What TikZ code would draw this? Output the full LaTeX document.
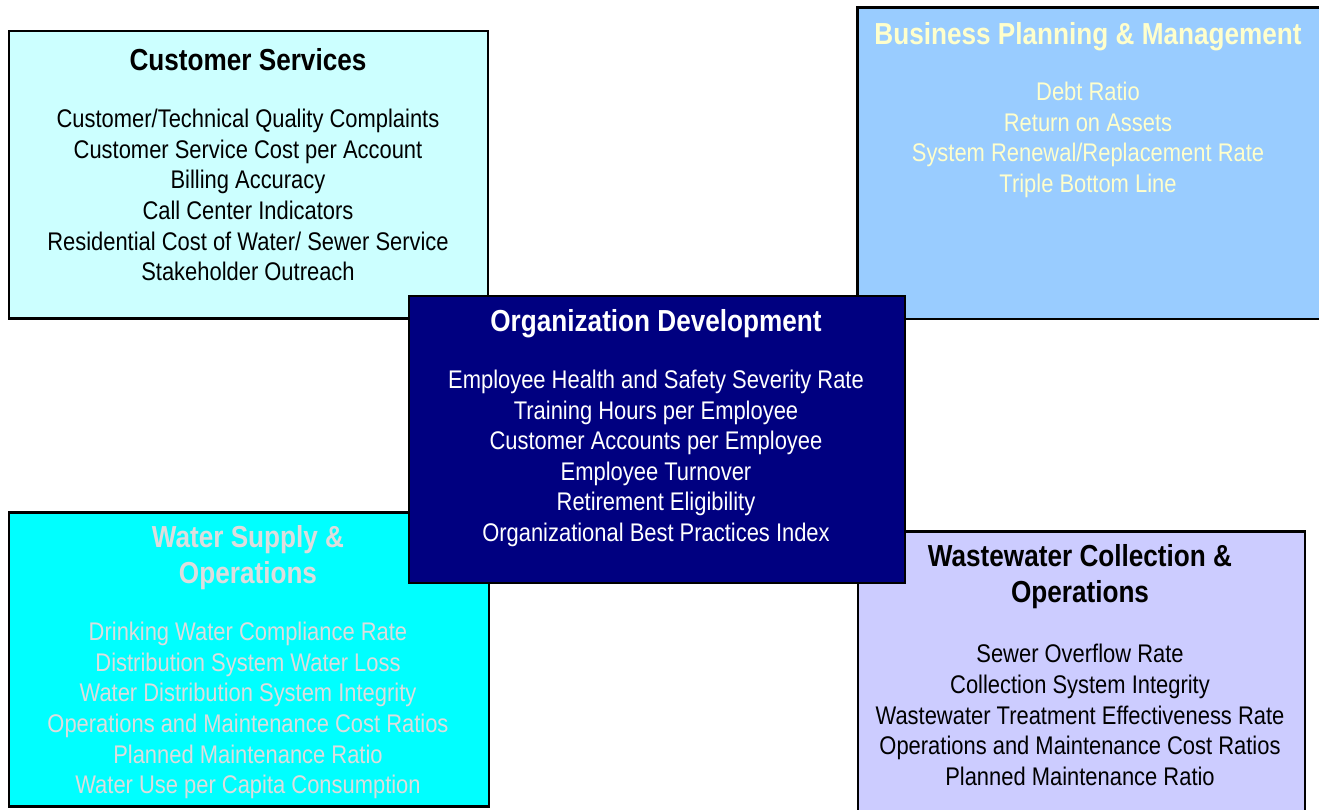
\documentclass[tikz,border=0pt]{standalone}
\usepackage{fontspec}
\setmainfont{Liberation Sans}[FakeStretch=0.86]
\definecolor{csfill}{HTML}{CCFFFF}
\definecolor{bpfill}{HTML}{99CCFF}
\definecolor{odfill}{HTML}{000080}
\definecolor{wsfill}{HTML}{00FFFF}
\definecolor{wwfill}{HTML}{CCCCFF}
\definecolor{bptext}{HTML}{FFFFCC}
\definecolor{wstext}{HTML}{DDDDDD}
\tikzset{
  panel/.style={draw=black, line width=2.5pt, rectangle, inner sep=0pt, anchor=north west},
  ttl/.style={font=\fontsize{30.4}{36}\selectfont\bfseries, align=center, inner sep=0pt},
  body/.style={font=\fontsize{25.5}{30.6}\selectfont, align=center, inner sep=0pt},
}
\begin{document}
\begin{tikzpicture}[x=1pt,y=-1pt]
\useasboundingbox (0,0) rectangle (1319,810);
\clip (0,0) rectangle (1319,810);
% Customer Services
\node[panel, fill=csfill, minimum width=479pt, minimum height=287pt] (cs) at (7.5,30) {};
\node[ttl] (cst) at (248,60) {Customer Services};
\node[body] (csb) at (248,195) {Customer/Technical Quality Complaints\\Customer Service Cost per Account\\Billing Accuracy\\Call Center Indicators\\Residential Cost of Water/ Sewer Service\\Stakeholder Outreach};
% Business Planning
\node[panel, fill=bpfill, minimum width=475pt, minimum height=311pt] (bp) at (856,6.5) {};
\node[ttl, text=bptext] (bpt) at (1088,37) {Business Planning \& Management};
\node[body, text=bptext] (bpb) at (1088,140) {Debt Ratio\\Return on Assets\\System Renewal/Replacement Rate\\Triple Bottom Line};
% Water Supply
\node[panel, fill=wsfill, minimum width=480pt, minimum height=294pt] (ws) at (7.5,511) {};
\node[ttl, text=wstext] (wst) at (248,558) {Water Supply \&\\Operations};
\node[body, text=wstext] (wsb) at (248,710.5) {Drinking Water Compliance Rate\\Distribution System Water Loss\\Water Distribution System Integrity\\Operations and Maintenance Cost Ratios\\Planned Maintenance Ratio\\Water Use per Capita Consumption};
% Wastewater
\node[panel, fill=wwfill, minimum width=447pt, minimum height=300pt] (ww) at (856.5,530) {};
\node[ttl] (wwt) at (1080,577) {Wastewater Collection \&\\Operations};
\node[body] (wwb) at (1080,715) {Sewer Overflow Rate\\Collection System Integrity\\Wastewater Treatment Effectiveness Rate\\Operations and Maintenance Cost Ratios\\Planned Maintenance Ratio};
% Organization Development
\node[panel, fill=odfill, minimum width=496pt, minimum height=287pt] (od) at (407.5,294.5) {};
\node[ttl, text=white] (odt) at (656,324) {Organization Development};
\node[body, text=white] (odb) at (656,458.5) {Employee Health and Safety Severity Rate\\Training Hours per Employee\\Customer Accounts per Employee\\Employee Turnover\\Retirement Eligibility\\Organizational Best Practices Index};
\end{tikzpicture}
\end{document}
